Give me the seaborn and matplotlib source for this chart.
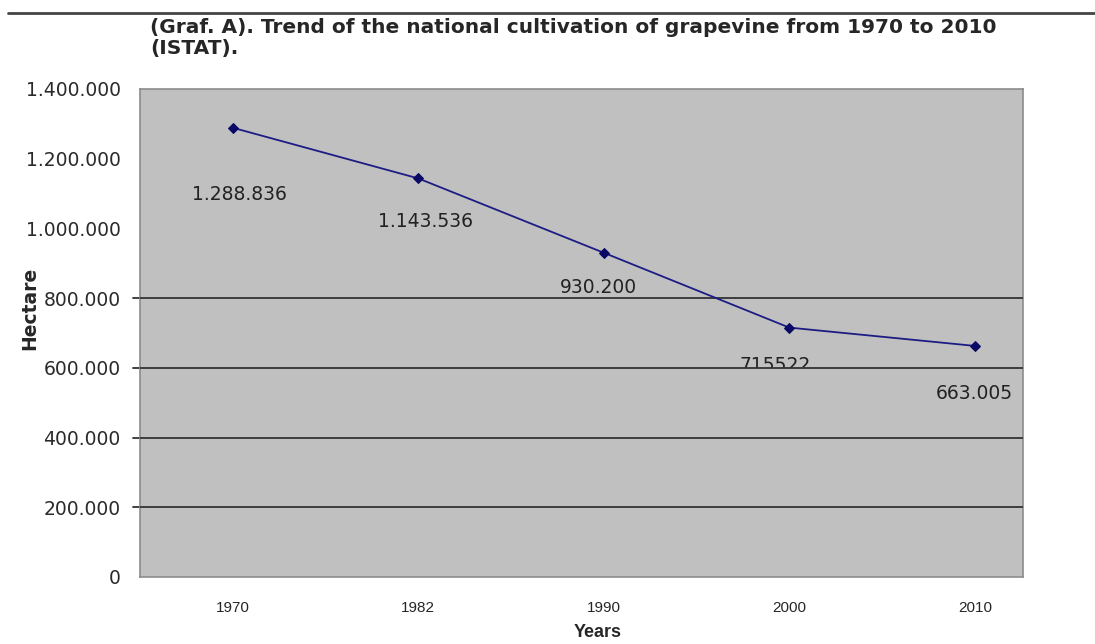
import matplotlib
matplotlib.use('Agg')
import matplotlib.pyplot as plt
from matplotlib.lines import Line2D
from matplotlib.patches import Rectangle
import seaborn as sns
import pandas as pd

# Data
years = ['1970', '1982', '1990', '2000', '2010']
hectares = [1288836, 1143536, 930200, 715522, 663005]
point_labels = ['1.288.836', '1.143.536', '930.200', '715522', '663.005']
y_ticks = [0, 200000, 400000, 600000, 800000, 1000000, 1200000, 1400000]
y_tick_labels = ['0', '200.000', '400.000', '600.000', '800.000',
                 '1.000.000', '1.200.000', '1.400.000']
grid_values = [200000, 400000, 600000, 800000]

# label offsets in points (dx, dy)
label_offsets = [(5, -48), (5, -31), (-4, -25), (-10, -27), (0, -34)]

sns.set_style("white")
plt.rcParams['font.family'] = ['DejaVu Sans']

fig = plt.figure(figsize=(10.95, 6.44), dpi=100)
ax = fig.add_axes([140 / 1095, 1 - 577 / 644, 883 / 1095, 488 / 644])
ax.set_facecolor('#c0c0c0')

df = pd.DataFrame({'Years': years, 'Hectare': hectares})
df['pos'] = range(len(years))

for g in grid_values:
    ax.axhline(g, color='#333333', linewidth=1.3, zorder=3)

sns.lineplot(data=df, x='pos', y='Hectare', ax=ax, color='#1c1c84',
             linewidth=1.3, marker='D', markersize=5.5,
             markeredgecolor='#0a0a66', markerfacecolor='#0a0a66', zorder=4)

for i, (lab, (dx, dy)) in enumerate(zip(point_labels, label_offsets)):
    t = ax.annotate(lab, (df['pos'][i], hectares[i]), xytext=(dx, dy),
                    textcoords='offset points', ha='center', va='center',
                    fontsize=13.5, color='#222222', zorder=2)
    if i == 3:
        # the 2000 label is cut off by the 600.000 grid line in the original
        clip = Rectangle((-0.5, grid_values[2]), 5, 1e6, transform=ax.transData)
        t.set_clip_on(True)
        t.set_clip_path(clip)

ax.set_xlim(-0.5, 4.26)
ax.set_ylim(0, 1400000)
ax.set_xticks(df['pos'])
ax.set_xticklabels(years, fontsize=11, fontfamily='Liberation Sans')
ax.set_yticks(y_ticks)
ax.set_yticklabels(y_tick_labels, fontsize=13.5, color='#2a2a2a')
ax.tick_params(axis='y', length=0, pad=14)
ax.tick_params(axis='x', length=0, pad=17)

# grid lines run a little past the left edge
for g in grid_values:
    ax.plot([-0.54, -0.5], [g, g], color='#333333', linewidth=1.3,
            clip_on=False, transform=ax.transData)

for s in ax.spines.values():
    s.set_color('#8c8c8c')
    s.set_linewidth(1.2)

ax.set_xlabel('Years', fontsize=13, fontweight='bold', fontfamily='Liberation Sans')
ax.set_ylabel('Hectare', fontsize=13.5, fontweight='bold')
ax.xaxis.set_label_coords(0.518, -0.097)
ax.yaxis.set_label_coords(-0.114, 0.55)

fig.text(150 / 1095, 1 - 18 / 644,
         '(Graf. A). Trend of the national cultivation of grapevine from 1970 to 2010\n(ISTAT).',
         fontsize=14.5, fontweight='bold', ha='left', va='top', linespacing=1.15)

fig.add_artist(Line2D([8 / 1095, 1.0], [1 - 13 / 644, 1 - 13 / 644],
                      color='#444444', linewidth=2))

fig.savefig('out.png', dpi=100)
